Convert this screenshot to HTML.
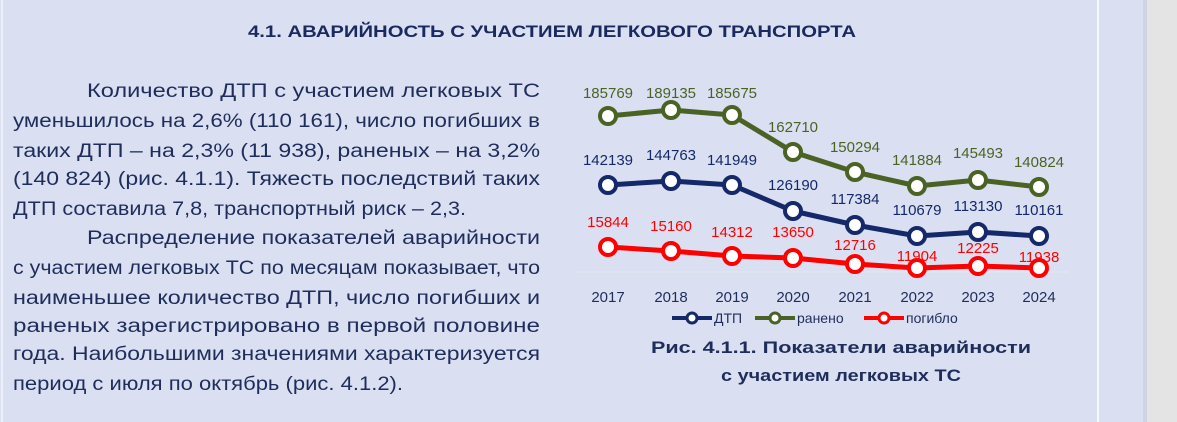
<!DOCTYPE html>
<html><head><meta charset="utf-8"><style>
html,body{margin:0;padding:0;width:1177px;height:422px;overflow:hidden;background:#e4e4e4}
svg{display:block}
.p{font-family:"Liberation Sans",sans-serif;font-size:19px;fill:#1f2d5a}
.n{font-family:"Liberation Sans",sans-serif;font-size:15px;text-anchor:middle}
</style></head><body>
<svg width="1177" height="422" viewBox="0 0 1177 422" xmlns="http://www.w3.org/2000/svg">
<rect x="0" y="0" width="1147" height="422" fill="#dae0f2"/>
<rect x="1143" y="0" width="4" height="422" fill="#cfd4e4"/>
<line x1="1098" y1="0" x2="1098" y2="422" stroke="#ffffff" stroke-width="1.5"/>
<line x1="2" y1="0" x2="2" y2="422" stroke="#ffffff" stroke-width="1"/>
<text x="552" y="37" font-family="Liberation Sans,sans-serif" font-weight="bold" font-size="17" fill="#1a2a5e" text-anchor="middle" textLength="608" lengthAdjust="spacingAndGlyphs">4.1. АВАРИЙНОСТЬ С УЧАСТИЕМ ЛЕГКОВОГО ТРАНСПОРТА</text>
<g class="p">
<text x="87" y="97" textLength="453" lengthAdjust="spacingAndGlyphs">Количество  ДТП  с  участием  легковых  ТС</text>
<text x="13" y="127" textLength="527" lengthAdjust="spacingAndGlyphs">уменьшилось на 2,6% (110 161), число погибших в</text>
<text x="13" y="157" textLength="527" lengthAdjust="spacingAndGlyphs">таких ДТП – на 2,3% (11 938), раненых – на 3,2%</text>
<text x="13" y="185" textLength="527" lengthAdjust="spacingAndGlyphs">(140 824)  (рис.  4.1.1). Тяжесть последствий таких</text>
<text x="13" y="215" textLength="453" lengthAdjust="spacingAndGlyphs">ДТП составила 7,8, транспортный риск – 2,3.</text>
<text x="87" y="244" textLength="453" lengthAdjust="spacingAndGlyphs">Распределение   показателей   аварийности</text>
<text x="13" y="274" textLength="527" lengthAdjust="spacingAndGlyphs">с участием легковых ТС по месяцам показывает, что</text>
<text x="13" y="304" textLength="527" lengthAdjust="spacingAndGlyphs">наименьшее  количество  ДТП,  число  погибших  и</text>
<text x="13" y="332" textLength="527" lengthAdjust="spacingAndGlyphs">раненых  зарегистрировано  в  первой  половине</text>
<text x="13" y="360" textLength="527" lengthAdjust="spacingAndGlyphs">года.  Наибольшими  значениями  характеризуется</text>
<text x="13" y="390" textLength="390" lengthAdjust="spacingAndGlyphs">период с июля по октябрь (рис. 4.1.2).</text>
</g>
<line x1="578" y1="272" x2="1068" y2="272" stroke="#e8e8ee" stroke-width="1"/>
<g fill="none" stroke-width="5" stroke-linejoin="round">
<polyline stroke="#4a6324" points="608,116 671,110 732,115 793,152 855,172 917,186 978,180 1039,187"/>
<polyline stroke="#14286a" points="608,185 671,181 732,185 793,211 855,225 917,236 978,232 1039,236"/>
<polyline stroke="#ff0000" points="608,247 671,251 732,256 793,258 855,264 917,268 978,266 1039,268"/>
</g>
<g fill="#ffffff" stroke-width="4">
<g stroke="#4a6324"><circle cx="608" cy="116" r="8"/><circle cx="671" cy="110" r="8"/><circle cx="732" cy="115" r="8"/><circle cx="793" cy="152" r="8"/><circle cx="855" cy="172" r="8"/><circle cx="917" cy="186" r="8"/><circle cx="978" cy="180" r="8"/><circle cx="1039" cy="187" r="8"/></g>
<g stroke="#14286a"><circle cx="608" cy="185" r="8"/><circle cx="671" cy="181" r="8"/><circle cx="732" cy="185" r="8"/><circle cx="793" cy="211" r="8"/><circle cx="855" cy="225" r="8"/><circle cx="917" cy="236" r="8"/><circle cx="978" cy="232" r="8"/><circle cx="1039" cy="236" r="8"/></g>
<g stroke="#ff0000"><circle cx="608" cy="247" r="8"/><circle cx="671" cy="251" r="8"/><circle cx="732" cy="256" r="8"/><circle cx="793" cy="258" r="8"/><circle cx="855" cy="264" r="8"/><circle cx="917" cy="268" r="8"/><circle cx="978" cy="266" r="8"/><circle cx="1039" cy="268" r="8"/></g>
</g>
<g class="n" fill="#4a6324">
<text x="608" y="98">185769</text><text x="671" y="98">189135</text><text x="732" y="98">185675</text><text x="793" y="132">162710</text><text x="855" y="152">150294</text><text x="917" y="165">141884</text><text x="978" y="158">145493</text><text x="1039" y="167">140824</text>
</g>
<g class="n" fill="#14286a">
<text x="608" y="165">142139</text><text x="671" y="160">144763</text><text x="732" y="165">141949</text><text x="793" y="190">126190</text><text x="855" y="204">117384</text><text x="917" y="215">110679</text><text x="978" y="211">113130</text><text x="1039" y="215">110161</text>
</g>
<g class="n" fill="#ff0000">
<text x="608" y="227">15844</text><text x="671" y="231">15160</text><text x="732" y="237">14312</text><text x="793" y="237">13650</text><text x="855" y="250">12716</text><text x="917" y="261">11904</text><text x="978" y="253">12225</text><text x="1039" y="262">11938</text>
</g>
<g class="n" fill="#1f2d5a">
<text x="608" y="302">2017</text><text x="671" y="302">2018</text><text x="732" y="302">2019</text><text x="793" y="302">2020</text><text x="855" y="302">2021</text><text x="917" y="302">2022</text><text x="978" y="302">2023</text><text x="1039" y="302">2024</text>
</g>
<g stroke-width="4" fill="#fff">
<line x1="672" y1="318" x2="712" y2="318" stroke="#14286a"/><circle cx="692" cy="318" r="5" stroke="#14286a" stroke-width="3"/>
<line x1="755" y1="318" x2="795" y2="318" stroke="#4a6324"/><circle cx="775" cy="318" r="5" stroke="#4a6324" stroke-width="3"/>
<line x1="864" y1="318" x2="904" y2="318" stroke="#ff0000"/><circle cx="884" cy="318" r="5" stroke="#ff0000" stroke-width="3"/>
</g>
<g font-family="Liberation Sans,sans-serif" font-size="14" fill="#1f2d5a">
<text x="714" y="323">ДТП</text><text x="797" y="323">ранено</text><text x="906" y="323">погибло</text>
</g>
<g font-family="Liberation Sans,sans-serif" font-weight="bold" font-size="17" fill="#1f2d5a" text-anchor="middle">
<text x="841" y="353" textLength="380" lengthAdjust="spacingAndGlyphs">Рис. 4.1.1.  Показатели аварийности</text>
<text x="841" y="381" textLength="240" lengthAdjust="spacingAndGlyphs">с участием легковых ТС</text>
</g>
</svg>
</body></html>
